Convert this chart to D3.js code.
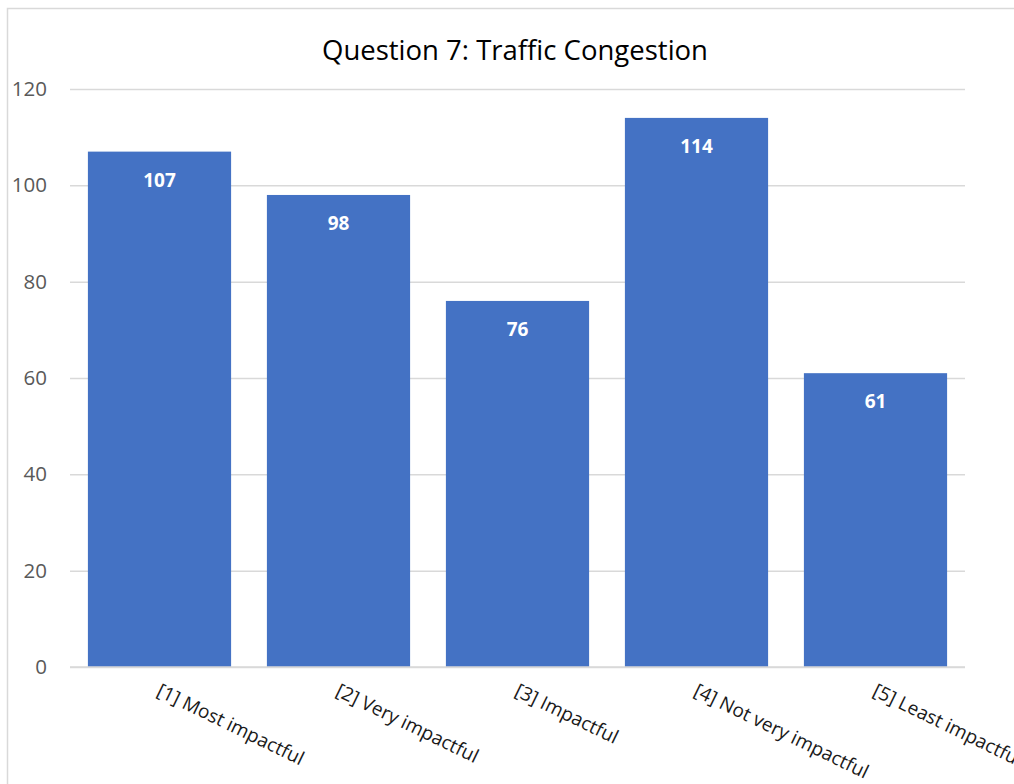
<!DOCTYPE html>
<html>
<head>
<meta charset="utf-8">
<script src="https://cdn.jsdelivr.net/npm/d3@7"></script>
<style>
  body { margin: 0; background: #fff; }
  text { font-family: "Open Sans", "Liberation Sans", sans-serif; }
</style>
</head>
<body>
<div id="adiv"></div>
<script>
var categories = ["[1] Most impactful", "[2] Very impactful", "[3] Impactful", "[4] Not very impactful", "[5] Least impactful"];
var counts = [107, 98, 76, 114, 61];
var yTicks = [0, 20, 40, 60, 80, 100, 120];
var title = "Question 7: Traffic Congestion";

var W = 1014, H = 784;
var margin = {top: 89, right: 49, bottom: 117, left: 70},
    width = W - margin.left - margin.right,
    height = H - margin.top - margin.bottom;

var svg = d3.select("#adiv")
  .append("svg")
    .attr("width", W)
    .attr("height", H);

// chart border (only left + top visible in the picture)
svg.append("rect")
  .attr("x", 7.5).attr("y", 8.5)
  .attr("width", W + 20).attr("height", H + 20)
  .attr("fill", "none")
  .attr("stroke", "#d9d9d9")
  .attr("stroke-width", 1.5);

svg.append("text")
  .attr("x", 515).attr("y", 60)
  .attr("text-anchor", "middle")
  .attr("font-size", 27.5)
  .attr("fill", "#000")
  .text(title);

var g = svg.append("g")
  .attr("transform", "translate(" + margin.left + "," + margin.top + ")");

var x = d3.scaleBand()
  .domain(categories)
  .range([0, width])
  .paddingInner(0.2)
  .paddingOuter(0.1);

var y = d3.scaleLinear()
  .domain([0, 120])
  .range([height, 0]);

// gridlines + y labels
var yAxis = g.append("g")
  .call(d3.axisLeft(y).tickValues(yTicks).tickSize(-width).tickPadding(23));
yAxis.select(".domain").remove();
yAxis.selectAll(".tick line").attr("stroke", "#d9d9d9").attr("stroke-width", 1.5);
yAxis.selectAll(".tick text")
  .attr("font-size", 20.5)
  .attr("fill", "#595959")
  .attr("font-family", "Open Sans, sans-serif");

// bars
g.selectAll("rect.bar")
  .data(counts)
  .enter()
  .append("rect")
    .attr("class", "bar")
    .attr("x", function(d, i){ return x(categories[i]); })
    .attr("y", function(d){ return y(d); })
    .attr("width", x.bandwidth())
    .attr("height", function(d){ return height - y(d); })
    .attr("fill", "#4472c4");

// baseline
g.append("line")
  .attr("x1", 0).attr("x2", width)
  .attr("y1", height).attr("y2", height)
  .attr("stroke", "#d9d9d9")
  .attr("stroke-width", 1.5);

// value labels
g.selectAll("text.val")
  .data(counts)
  .enter()
  .append("text")
    .attr("class", "val")
    .attr("x", function(d, i){ return x(categories[i]) + x.bandwidth() / 2; })
    .attr("y", function(d){ return y(d) + 35; })
    .attr("text-anchor", "middle")
    .attr("font-size", 19)
    .attr("font-weight", "bold")
    .attr("fill", "#fff")
    .text(function(d){ return d; });

// category labels, rotated
g.selectAll("text.cat")
  .data(categories)
  .enter()
  .append("text")
    .attr("class", "cat")
    .attr("transform", function(d){
      return "translate(" + (x(d) + x.bandwidth() / 2 - 4) + "," + (height + 28) + ") rotate(26)";
    })
    .attr("font-size", 19)
    .attr("fill", "#1a1a1a")
    .text(function(d){ return d; });
</script>
</body>
</html>
